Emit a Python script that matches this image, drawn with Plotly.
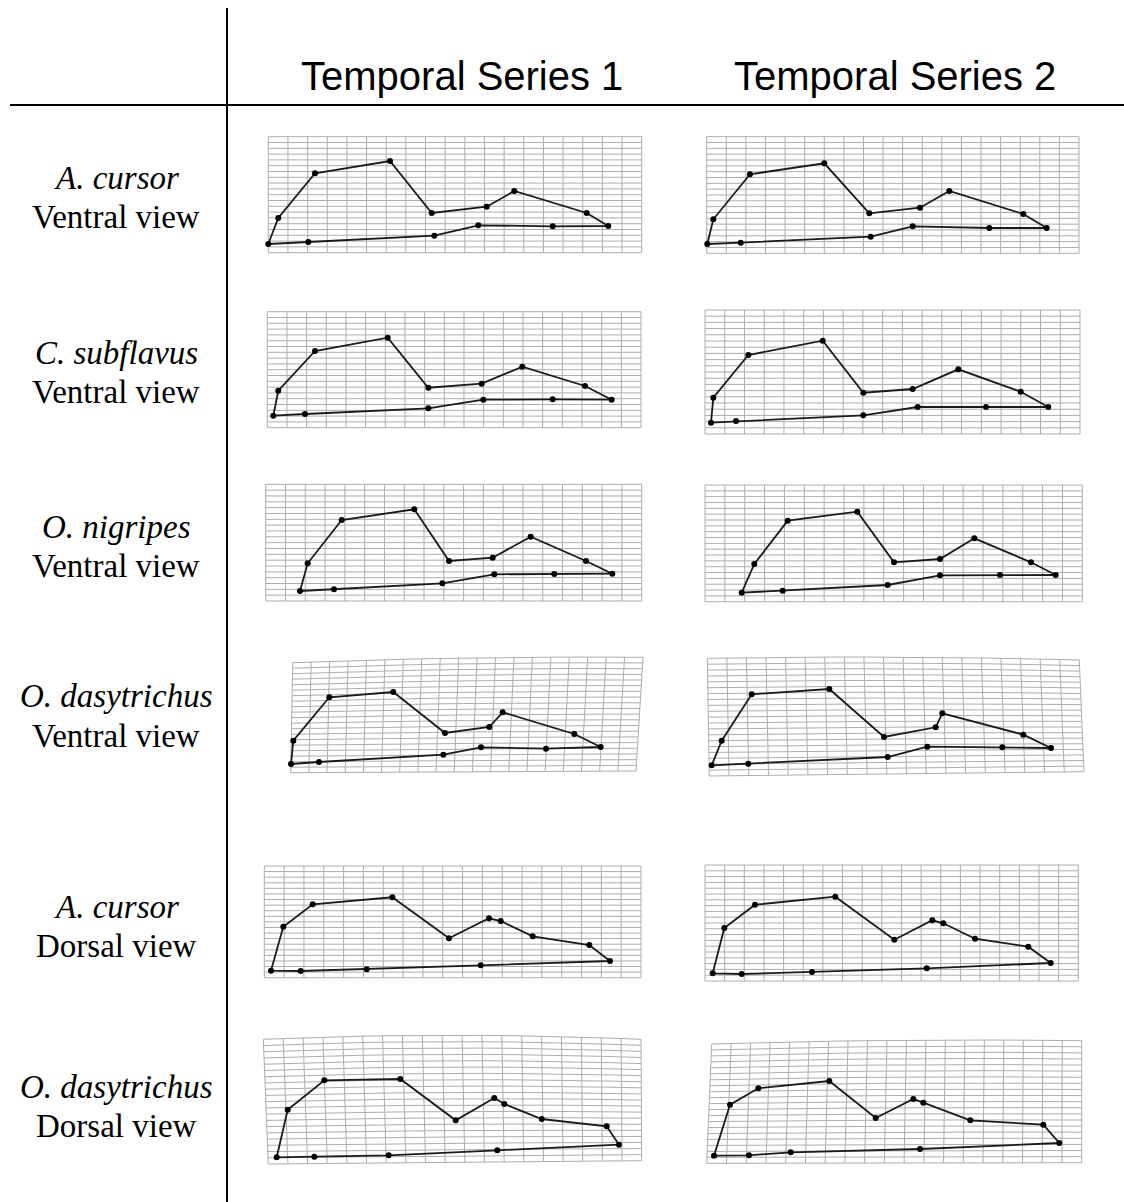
import plotly.graph_objects as go

W, H = 1124, 1202

# ---- table text ----
col_titles = ["Temporal Series 1", "Temporal Series 2"]
col_title_x = [462, 895]
species = ["A. cursor", "C. subflavus", "O. nigripes", "O. dasytrichus", "A. cursor", "O. dasytrichus"]
views = ["Ventral view", "Ventral view", "Ventral view", "Ventral view", "Dorsal view", "Dorsal view"]
species_y = [178, 353, 527, 696, 907, 1087]
views_y = [217, 392, 566, 736, 946, 1126]

# ---- landmark configurations (outline order: upper edge left->right, lower edge right->left) ----
acv1_x = [268.3, 278.3, 315.0, 390.0, 431.7, 486.7, 514.3, 586.7, 608.3, 552.7, 478.3, 434.3, 308.3]
acv1_y = [244.0, 218.0, 173.3, 161.0, 213.0, 206.7, 191.0, 213.0, 226.0, 226.3, 225.3, 235.7, 242.0]
acv2_x = [707.3, 713.3, 750.0, 824.3, 869.3, 920.0, 949.3, 1023.3, 1046.7, 989.3, 912.7, 870.7, 740.7]
acv2_y = [244.0, 219.3, 174.3, 163.3, 213.3, 207.7, 191.0, 214.0, 228.0, 228.0, 226.3, 236.7, 242.7]
csv1_x = [273.3, 278.3, 315.0, 387.7, 428.3, 481.7, 522.3, 585.0, 611.7, 552.7, 483.3, 428.3, 305.0]
csv1_y = [415.7, 390.7, 351.0, 337.7, 387.7, 383.7, 366.7, 386.0, 399.7, 399.3, 399.7, 408.3, 414.0]
csv2_x = [711.0, 713.3, 748.3, 822.7, 863.3, 912.7, 958.3, 1020.7, 1048.3, 986.0, 917.7, 863.3, 736.0]
csv2_y = [422.7, 397.7, 355.0, 340.7, 392.7, 389.0, 369.3, 391.7, 407.0, 407.0, 407.0, 415.3, 421.0]
onv1_x = [300.0, 307.7, 341.7, 414.3, 449.0, 492.7, 530.7, 586.0, 612.3, 554.3, 494.3, 442.3, 334.0]
onv1_y = [591.0, 563.3, 520.0, 509.3, 561.0, 557.7, 536.7, 561.0, 573.7, 574.0, 574.3, 583.3, 589.3]
onv2_x = [741.7, 754.3, 787.7, 857.3, 894.0, 940.0, 974.3, 1031.0, 1055.7, 1000.0, 940.0, 887.7, 782.7]
onv2_y = [592.7, 564.0, 520.7, 511.7, 562.3, 559.0, 538.3, 562.3, 575.0, 575.0, 575.3, 585.0, 590.7]
odv1_x = [291.0, 293.3, 329.3, 393.3, 445.0, 489.3, 502.7, 574.3, 600.7, 546.0, 481.0, 443.3, 319.0]
odv1_y = [764.0, 740.7, 697.3, 692.0, 733.0, 727.0, 712.3, 734.0, 747.0, 748.7, 747.3, 754.7, 762.0]
odv2_x = [711.7, 721.7, 751.7, 829.3, 884.0, 935.7, 942.3, 1023.3, 1051.0, 1002.3, 927.3, 887.7, 748.3]
odv2_y = [765.3, 740.7, 694.3, 689.0, 737.0, 727.3, 713.3, 734.7, 748.0, 747.3, 746.7, 757.0, 763.7]
acd1_x = [271.0, 283.3, 312.7, 392.3, 449.0, 489.0, 500.7, 532.7, 589.3, 610.0, 480.7, 366.7, 300.7]
acd1_y = [970.7, 926.7, 904.3, 897.3, 938.3, 918.3, 921.0, 936.3, 945.0, 961.0, 965.3, 969.3, 971.0]
acd2_x = [712.7, 724.3, 755.0, 835.3, 894.3, 932.3, 943.3, 975.0, 1028.3, 1050.7, 926.7, 812.0, 741.7]
acd2_y = [973.3, 928.0, 904.7, 896.7, 939.7, 920.3, 923.3, 938.7, 946.7, 963.0, 968.3, 972.0, 974.0]
odd1_x = [276.7, 287.7, 324.3, 400.3, 455.7, 494.3, 504.3, 541.7, 606.7, 619.0, 497.3, 388.7, 314.3]
odd1_y = [1157.3, 1109.7, 1080.3, 1079.0, 1120.3, 1098.0, 1104.0, 1119.0, 1126.3, 1144.7, 1150.3, 1155.3, 1156.7]
odd2_x = [714.0, 730.0, 758.3, 829.3, 875.7, 913.3, 923.3, 970.3, 1043.3, 1059.3, 920.0, 790.7, 749.0]
odd2_y = [1155.7, 1104.7, 1088.3, 1081.0, 1118.0, 1099.0, 1102.7, 1120.3, 1124.7, 1143.0, 1149.0, 1152.3, 1155.3]

shapes_xy = [
    (acv1_x, acv1_y), (acv2_x, acv2_y),
    (csv1_x, csv1_y), (csv2_x, csv2_y),
    (onv1_x, onv1_y), (onv2_x, onv2_y),
    (odv1_x, odv1_y), (odv2_x, odv2_y),
    (acd1_x, acd1_y), (acd2_x, acd2_y),
    (odd1_x, odd1_y), (odd2_x, odd2_y),
]

# ---- deformation grid corners: top-left, top-right, bottom-right, bottom-left; plus top-edge bow ----
grid_corners = [
    [(268.3, 136.7), (641.7, 136.7), (641.7, 252.7), (268.3, 252.7)],
    [(706.7, 136.7), (1079.0, 136.7), (1079.0, 253.3), (706.7, 253.3)],
    [(267.3, 311.7), (641.0, 311.7), (641.0, 427.7), (267.3, 427.7)],
    [(705.0, 310.0), (1080.0, 310.0), (1080.0, 434.0), (705.0, 434.0)],
    [(265.7, 484.3), (641.7, 484.3), (641.7, 601.0), (265.7, 601.0)],
    [(705.0, 485.0), (1082.3, 485.0), (1082.3, 601.7), (705.0, 601.7)],
    [(292.7, 662.7), (643.0, 657.3), (636.0, 771.0), (290.7, 772.7)],
    [(707.3, 658.3), (1079.3, 660.0), (1084.0, 771.7), (709.3, 776.0)],
    [(264.3, 866.0), (641.0, 866.0), (641.0, 977.7), (264.3, 977.7)],
    [(705.0, 865.0), (1078.3, 865.0), (1078.3, 981.0), (705.0, 981.0)],
    [(263.3, 1039.3), (641.0, 1039.3), (641.7, 1160.7), (268.3, 1164.0)],
    [(711.7, 1044.0), (1081.7, 1040.7), (1081.7, 1162.7), (706.7, 1163.3)],
]
grid_bow = [0, 0, 0, 0, 0, 0, -2, -2, 0, 0, -4, -2]
N_COLS, N_ROWS = 19, 20


def warp(c, bow, u, v):
    (x0, y0), (x1, y1), (x2, y2), (x3, y3) = c
    top_x, top_y = x0 + (x1 - x0) * u, y0 + (y1 - y0) * u
    bot_x, bot_y = x3 + (x2 - x3) * u, y3 + (y2 - y3) * u
    x = top_x + (bot_x - top_x) * v
    y = top_y + (bot_y - top_y) * v
    y += bow * 4 * u * (1 - u) * (1 - v)
    return x, y


gx, gy = [], []
steps = 12
for c, bow in zip(grid_corners, grid_bow):
    for i in range(N_COLS + 1):
        u = i / N_COLS
        for k in range(steps + 1):
            x, y = warp(c, bow, u, k / steps)
            gx.append(x); gy.append(y)
        gx.append(None); gy.append(None)
    for j in range(N_ROWS + 1):
        v = j / N_ROWS
        for k in range(steps + 1):
            x, y = warp(c, bow, k / steps, v)
            gx.append(x); gy.append(y)
        gx.append(None); gy.append(None)

fig = go.Figure()
fig.add_trace(go.Scatter(x=gx, y=gy, mode="lines",
                         line=dict(color="#adadad", width=1),
                         hoverinfo="skip", showlegend=False))

for xs, ys in shapes_xy:
    px = list(xs) + [xs[0]]
    py = list(ys) + [ys[0]]
    fig.add_trace(go.Scatter(x=px, y=py, mode="lines",
                             line=dict(color="#1a1a1a", width=1.8),
                             hoverinfo="skip", showlegend=False))
    fig.add_trace(go.Scatter(x=xs, y=ys, mode="markers",
                             marker=dict(color="#000000", size=6),
                             showlegend=False))

# table rules
fig.add_shape(type="line", x0=227, x1=227, y0=8, y1=1202, xref="x", yref="y",
              line=dict(color="#000000", width=2))
fig.add_shape(type="line", x0=10, x1=1124, y0=105, y1=105, xref="x", yref="y",
              line=dict(color="#000000", width=2))

for t, x in zip(col_titles, col_title_x):
    fig.add_annotation(x=x, y=76, text=t, showarrow=False, xanchor="center", yanchor="middle",
                       font=dict(family="Liberation Sans, Arial", size=40, color="#000000"))

for s, v, ys, yv in zip(species, views, species_y, views_y):
    fig.add_annotation(x=116, y=ys, text=f"<i>{s}</i>", showarrow=False, xanchor="center",
                       yanchor="middle",
                       font=dict(family="Liberation Serif, Times New Roman", size=33, color="#000000"))
    fig.add_annotation(x=116, y=yv, text=v, showarrow=False, xanchor="center", yanchor="middle",
                       font=dict(family="Liberation Serif, Times New Roman", size=33, color="#000000"))

fig.update_xaxes(range=[0, W], visible=False, fixedrange=True)
fig.update_yaxes(range=[H, 0], visible=False, fixedrange=True)
fig.update_layout(width=W, height=H, autosize=False,
                  margin=dict(l=0, r=0, t=0, b=0),
                  plot_bgcolor="white", paper_bgcolor="white")
fig.write_html("out.html")
